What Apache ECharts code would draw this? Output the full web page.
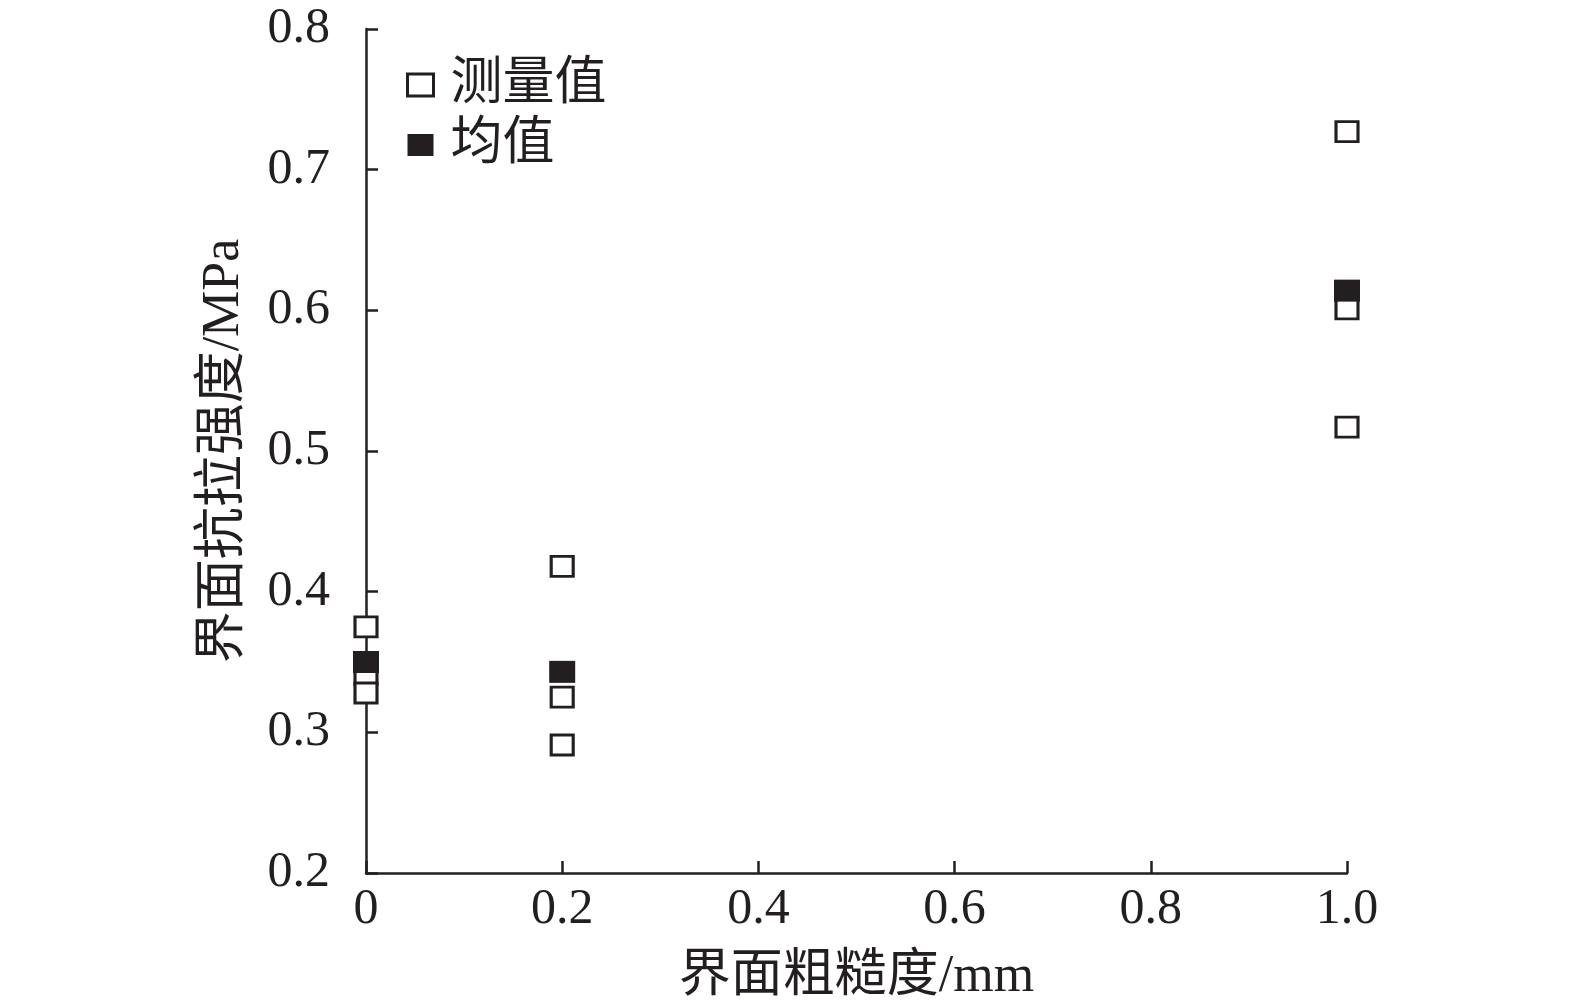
<!DOCTYPE html>
<html><head><meta charset="utf-8">
<script src="https://cdn.jsdelivr.net/npm/echarts@6/dist/echarts.min.js"></script>
<style>html,body{margin:0;padding:0;background:#fff}#c{width:1575px;height:1008px}</style>
</head><body><div id="c"></div>
<script>
const roughness = [0, 0.2, 1.0];
const measured0 = [0.375, 0.341, 0.328];
const measured02 = [0.418, 0.325, 0.291];
const measured10 = [0.727, 0.601, 0.517];
const means = [0.350, 0.343, 0.614];
const seriesNames = ['测量值', '均值'];
const xTicks = ['0', '0.2', '0.4', '0.6', '0.8', '1.0'];

const measuredData = [];
[measured0, measured02, measured10].forEach((arr, i) => arr.forEach(v => measuredData.push([roughness[i], v])));
const meanData = roughness.map((x, i) => [x, means[i]]);

const FONT = '"Liberation Serif", "Noto Sans CJK SC", serif';
const INK = '#231f20';
const chart = echarts.init(document.getElementById('c'), null, {renderer: 'canvas'});
chart.setOption({
  animation: false,
  backgroundColor: '#fff',
  grid: {left: 366, right: 228, top: 29, bottom: 134},
  legend: {
    orient: 'vertical', left: 401, top: 54, itemGap: 8,
    itemWidth: 26, itemHeight: 22,
    textStyle: {fontFamily: FONT, fontSize: 52, color: INK, padding: [0, 0, 0, 12]},
    data: [
      {name: seriesNames[0], icon: 'rect', itemStyle: {color: '#fff', borderColor: INK, borderWidth: 3, opacity: 1}},
      {name: seriesNames[1], icon: 'rect', itemStyle: {color: INK, opacity: 1}}
    ]
  },
  xAxis: {
    type: 'value', min: 0, max: 1, interval: 0.2,
    name: '界面粗糙度/mm', nameLocation: 'middle', nameGap: 78,
    nameTextStyle: {fontFamily: FONT, fontSize: 52, color: INK},
    axisLine: {lineStyle: {color: INK, width: 2.5}},
    axisTick: {inside: true, length: 12, lineStyle: {color: INK, width: 2.5}},
    axisLabel: {fontFamily: FONT, fontSize: 50, color: INK, margin: 12,
      formatter: v => xTicks[Math.round(v / 0.2)]},
    splitLine: {show: false}
  },
  yAxis: {
    type: 'value', min: 0.2, max: 0.8, interval: 0.1,
    name: '界面抗拉强度/MPa', nameLocation: 'middle', nameGap: 116,
    nameTextStyle: {fontFamily: FONT, fontSize: 52, color: INK},
    axisLine: {lineStyle: {color: INK, width: 2.5}},
    axisTick: {inside: true, length: 12, lineStyle: {color: INK, width: 2.5}},
    axisLabel: {fontFamily: FONT, fontSize: 50, color: INK, margin: 36,
      formatter: v => v.toFixed(1)},
    splitLine: {show: false}
  },
  series: [
    {name: seriesNames[0], type: 'scatter', data: measuredData, symbol: 'rect',
     symbolSize: [22, 20], clip: false, z: 2,
     itemStyle: {color: '#fff', borderColor: INK, borderWidth: 3, opacity: 1}},
    {name: seriesNames[1], type: 'scatter', data: meanData, symbol: 'rect',
     symbolSize: [26, 22], clip: false, z: 3,
     itemStyle: {color: INK, opacity: 1}}
  ]
});
</script></body></html>
